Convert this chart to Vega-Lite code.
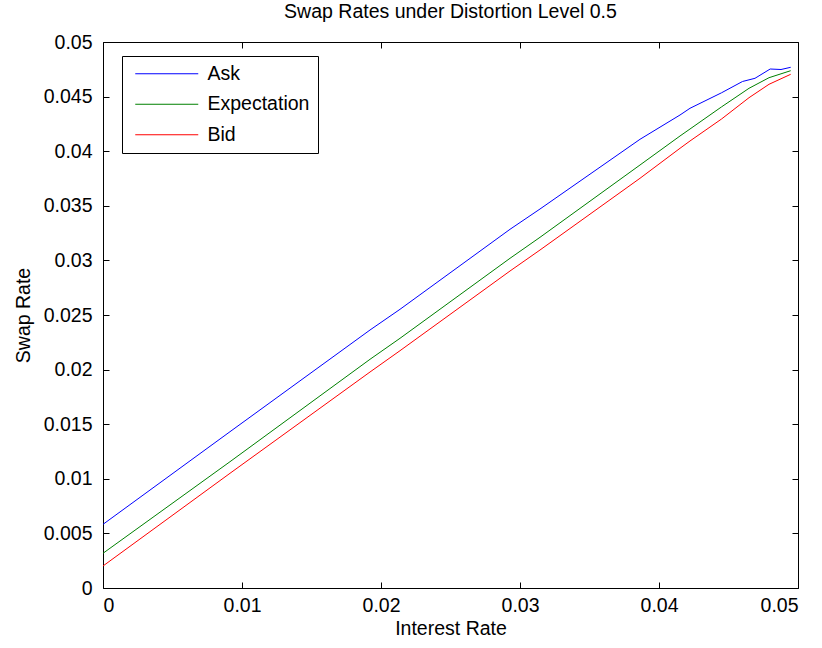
{
  "$schema": "https://vega.github.io/schema/vega-lite/v6.json",
  "width": 695,
  "height": 546,
  "autosize": {"type": "none"},
  "padding": {"left": 103, "top": 42, "right": 24, "bottom": 60},
  "background": "white",
  "title": {
    "text": "Swap Rates under Distortion Level 0.5",
    "font": "Liberation Sans",
    "fontSize": 19.5,
    "fontWeight": "normal",
    "color": "black",
    "anchor": "middle",
    "offset": 10
  },
  "config": {
    "view": {"stroke": "black", "strokeWidth": 1},
    "axis": {
      "labelFont": "Liberation Sans",
      "labelFontSize": 19.5,
      "labelColor": "black",
      "titleFont": "Liberation Sans",
      "titleFontSize": 19.5,
      "titleFontWeight": "normal",
      "titleColor": "black",
      "tickColor": "black",
      "tickSize": 6,
      "offset": -6,
      "domain": false,
      "grid": false
    }
  },
  "data": {
    "values": [
      {"rate": 0.0, "swap": 0.00583, "series": "Ask"},
      {"rate": 0.009137, "swap": 0.014313, "series": "Ask"},
      {"rate": 0.019209, "swap": 0.023626, "series": "Ask"},
      {"rate": 0.021367, "swap": 0.025522, "series": "Ask"},
      {"rate": 0.029281, "swap": 0.032848, "series": "Ask"},
      {"rate": 0.031439, "swap": 0.034707, "series": "Ask"},
      {"rate": 0.038633, "swap": 0.04109, "series": "Ask"},
      {"rate": 0.041511, "swap": 0.043315, "series": "Ask"},
      {"rate": 0.04223, "swap": 0.043929, "series": "Ask"},
      {"rate": 0.0445, "swap": 0.04535, "series": "Ask"},
      {"rate": 0.046007, "swap": 0.046383, "series": "Ask"},
      {"rate": 0.046906, "swap": 0.046676, "series": "Ask"},
      {"rate": 0.048, "swap": 0.047527, "series": "Ask"},
      {"rate": 0.048777, "swap": 0.047481, "series": "Ask"},
      {"rate": 0.049475, "swap": 0.047683, "series": "Ask"},
      {"rate": 0.0, "swap": 0.003178, "series": "Expectation"},
      {"rate": 0.009137, "swap": 0.011566, "series": "Expectation"},
      {"rate": 0.019209, "swap": 0.020943, "series": "Expectation"},
      {"rate": 0.021367, "swap": 0.022866, "series": "Expectation"},
      {"rate": 0.029281, "swap": 0.030192, "series": "Expectation"},
      {"rate": 0.031439, "swap": 0.032115, "series": "Expectation"},
      {"rate": 0.038633, "swap": 0.038736, "series": "Expectation"},
      {"rate": 0.041511, "swap": 0.041392, "series": "Expectation"},
      {"rate": 0.04223, "swap": 0.042033, "series": "Expectation"},
      {"rate": 0.0445, "swap": 0.04406, "series": "Expectation"},
      {"rate": 0.046475, "swap": 0.04576, "series": "Expectation"},
      {"rate": 0.047914, "swap": 0.046731, "series": "Expectation"},
      {"rate": 0.049475, "swap": 0.047372, "series": "Expectation"},
      {"rate": 0.0, "swap": 0.002015, "series": "Bid"},
      {"rate": 0.009137, "swap": 0.010504, "series": "Bid"},
      {"rate": 0.019209, "swap": 0.01978, "series": "Bid"},
      {"rate": 0.021367, "swap": 0.021731, "series": "Bid"},
      {"rate": 0.029281, "swap": 0.029029, "series": "Bid"},
      {"rate": 0.031439, "swap": 0.030952, "series": "Bid"},
      {"rate": 0.038633, "swap": 0.037519, "series": "Bid"},
      {"rate": 0.041511, "swap": 0.040266, "series": "Bid"},
      {"rate": 0.04223, "swap": 0.040935, "series": "Bid"},
      {"rate": 0.0445, "swap": 0.04295, "series": "Bid"},
      {"rate": 0.046475, "swap": 0.044899, "series": "Bid"},
      {"rate": 0.047914, "swap": 0.046126, "series": "Bid"},
      {"rate": 0.049475, "swap": 0.047041, "series": "Bid"}
    ]
  },
  "layer": [
    {
      "mark": {"type": "line", "strokeWidth": 1, "clip": true},
      "encoding": {
        "x": {
          "field": "rate",
          "type": "quantitative",
          "scale": {"domain": [0, 0.05], "nice": false, "zero": false},
          "axis": {
            "orient": "bottom",
            "values": [0, 0.01, 0.02, 0.03, 0.04, 0.05],
            "format": "~g",
            "labelPadding": 8,
            "title": "Interest Rate",
            "titlePadding": 5
          }
        },
        "y": {
          "field": "swap",
          "type": "quantitative",
          "scale": {"domain": [0, 0.05], "nice": false, "zero": false},
          "axis": {
            "orient": "left",
            "values": [0, 0.005, 0.01, 0.015, 0.02, 0.025, 0.03, 0.035, 0.04, 0.045, 0.05],
            "format": "~g",
            "labelPadding": 11,
            "title": "Swap Rate",
            "titlePadding": 10
          }
        },
        "color": {
          "field": "series",
          "type": "nominal",
          "scale": {"domain": ["Ask", "Expectation", "Bid"], "range": ["#0000ff", "#008000", "#ff0000"]},
          "legend": {
            "orient": "none",
            "legendX": 19,
            "legendY": 14,
            "title": null,
            "strokeColor": "black",
            "fillColor": "white",
            "padding": 8,
            "rowPadding": 9.5,
            "symbolType": "M-0.9,0H11.7",
            "symbolSize": 100,
            "symbolStrokeWidth": 1,
            "symbolOpacity": 1,
            "labelFont": "Liberation Sans",
            "labelFontSize": 19.5,
            "labelColor": "black",
            "labelOffset": 58
          }
        }
      }
    },
    {
      "mark": {"type": "line", "strokeOpacity": 0},
      "encoding": {
        "x": {
          "field": "rate",
          "type": "quantitative",
          "scale": {"domain": [0, 0.05], "nice": false, "zero": false},
          "axis": {
            "orient": "top",
            "values": [0, 0.01, 0.02, 0.03, 0.04, 0.05],
            "labels": false,
            "title": null
          }
        },
        "y": {
          "field": "swap",
          "type": "quantitative",
          "scale": {"domain": [0, 0.05], "nice": false, "zero": false},
          "axis": {
            "orient": "right",
            "values": [0, 0.005, 0.01, 0.015, 0.02, 0.025, 0.03, 0.035, 0.04, 0.045, 0.05],
            "labels": false,
            "title": null
          }
        },
        "detail": {"field": "series", "type": "nominal"}
      }
    }
  ],
  "resolve": {"axis": {"x": "independent", "y": "independent"}}
}
